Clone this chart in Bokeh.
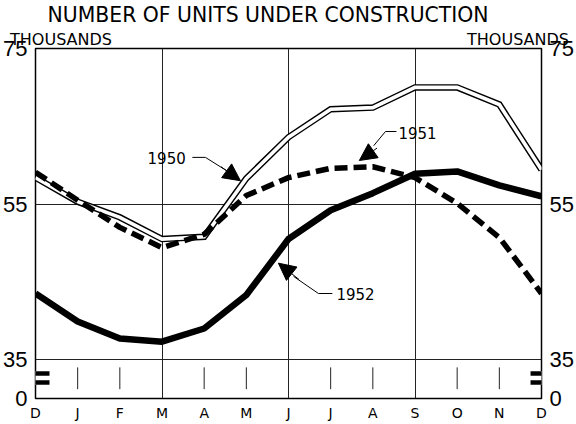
from bokeh.plotting import figure
from bokeh.models import FixedTicker, LinearAxis, Range1d, Arrow, NormalHead
from bokeh.core.properties import value
from bokeh.embed import file_html
from bokeh.resources import INLINE

months = ["D", "J", "F", "M", "A", "M", "J", "J", "A", "S", "O", "N", "D"]
x_pos = list(range(len(months)))
units_1950 = [58.4, 55.3, 53.3, 50.5, 50.8, 58.3, 63.6, 67.2, 67.4, 70.0, 70.0, 67.8, 59.4]
units_1951 = [59.1, 55.5, 52.0, 49.4, 51.1, 56.1, 58.4, 59.6, 59.8, 58.4, 55.1, 50.7, 43.5]
units_1952 = [43.5, 39.9, 37.7, 37.3, 39.0, 43.3, 50.5, 54.2, 56.4, 58.9, 59.2, 57.4, 56.0]
y_ticks = [30, 35, 55, 75]
y_tick_labels = {30: "0", 35: "35", 55: "55", 75: "75"}
grid_months = [3, 6, 9]
strip_ticks = [1, 2, 4, 5, 7, 8, 10, 11]
unit_labels = {1: "THOUSANDS", 2: "THOUSANDS"}

NUM_FONT = "Liberation Sans"
TXT_FONT = "DejaVu Sans"

p = figure(frame_width=506, frame_height=350, output_backend="svg", toolbar_location=None,
           x_range=(0, 12), y_range=(30, 75),
           min_border_left=27, min_border_right=27, min_border_top=0, min_border_bottom=0)
p.background_fill_color = "white"
p.border_fill_color = "white"
p.outline_line_color = "black"
p.outline_line_width = 1.5

p.title.text = "NUMBER OF UNITS UNDER CONSTRUCTION"
p.title.align = "left"
p.title.offset = 12
p.title.text_font = TXT_FONT
p.title.text_font_size = "20.4px"
p.title.text_font_style = "normal"
p.title.text_color = "black"
p.title.standoff = 0

def style_axis(ax, font, size):
    ax.axis_line_color = None
    ax.major_tick_line_color = None
    ax.minor_tick_line_color = None
    ax.major_label_text_font = font
    ax.major_label_text_font_size = size
    ax.major_label_text_color = "black"

# x axis
p.xaxis.ticker = FixedTicker(ticks=x_pos)
p.xaxis.major_label_overrides = {i: m for i, m in zip(x_pos, months)}
style_axis(p.xaxis[0], TXT_FONT, "14px")
p.xaxis.major_label_standoff = 0

# "THOUSANDS" headers as an axis row above the frame
p.extra_x_ranges = {"units": Range1d(0.9442, 2.0514)}
top_ax = LinearAxis(x_range_name="units", ticker=FixedTicker(ticks=[1, 2]),
                    major_label_overrides=unit_labels)
style_axis(top_ax, TXT_FONT, "16px")
top_ax.major_label_standoff = -6
p.add_layout(top_ax, "above")

# y axes
p.yaxis.ticker = FixedTicker(ticks=y_ticks)
p.yaxis.major_label_overrides = dict(y_tick_labels)
style_axis(p.yaxis[0], NUM_FONT, "22px")
p.yaxis.major_label_standoff = 2
ry = LinearAxis(ticker=FixedTicker(ticks=y_ticks), major_label_overrides=dict(y_tick_labels))
style_axis(ry, NUM_FONT, "22px")
ry.major_label_standoff = 2
p.add_layout(ry, "right")

# grids
p.xgrid.ticker = FixedTicker(ticks=grid_months)
p.ygrid.ticker = FixedTicker(ticks=[35, 55])
for g in (p.xgrid[0], p.ygrid[0]):
    g.grid_line_color = "#222222"
    g.grid_line_width = 1

# short ticks in lower strip
p.segment(x0=strip_ticks, y0=[34.0] * len(strip_ticks), x1=strip_ticks, y1=[31.2] * len(strip_ticks),
          line_color="#222222", line_width=1)

# series
p.line(x_pos, units_1950, line_color="black", line_width=6.5, line_join="miter")
p.line(x_pos, units_1950, line_color="white", line_width=3.6, line_join="miter")
p.line(x_pos, units_1951, line_color="black", line_width=5.5, line_dash="13 6")
p.line(x_pos, units_1952, line_color="black", line_width=6.5, line_join="round")

# annotations
p.text(x=[3.11, 9.06, 7.59], y=[60.9, 64.2, 43.5], text=["1950", "1951", "1952"],
       text_font=value(TXT_FONT), text_font_size="15px", text_align="center",
       text_baseline="middle", text_color="black")
p.line([3.72, 4.03, 4.53], [61.0, 61.0, 59.3], line_color="black", line_width=1)
p.line([8.56, 8.30, 8.02], [64.33, 64.33, 62.5], line_color="black", line_width=1)
p.line([7.04, 6.71, 6.12], [43.5, 43.5, 45.7], line_color="black", line_width=1)
for xs, ys, xe, ye in [(4.40, 59.8, 4.86, 58.0), (8.10, 62.2, 7.68, 60.6), (6.25, 45.3, 5.76, 47.4)]:
    p.add_layout(Arrow(x_start=xs, y_start=ys, x_end=xe, y_end=ye, line_color="black", line_width=1,
                       end=NormalHead(size=17, fill_color="black", line_color="black")))

# axis break marks
for x0, x1 in [(-0.285, 0.332), (11.74, 12.33)]:
    p.add_layout(Arrow(x_start=x0, y_start=32.65, x_end=x1, y_end=32.65, end=None,
                       line_color="white", line_width=14))
    for yb in (33.23, 32.07):
        p.add_layout(Arrow(x_start=x0, y_start=yb, x_end=x1, y_end=yb, end=None,
                           line_color="black", line_width=4.5))

open("out.html", "w").write(file_html(p, INLINE))
